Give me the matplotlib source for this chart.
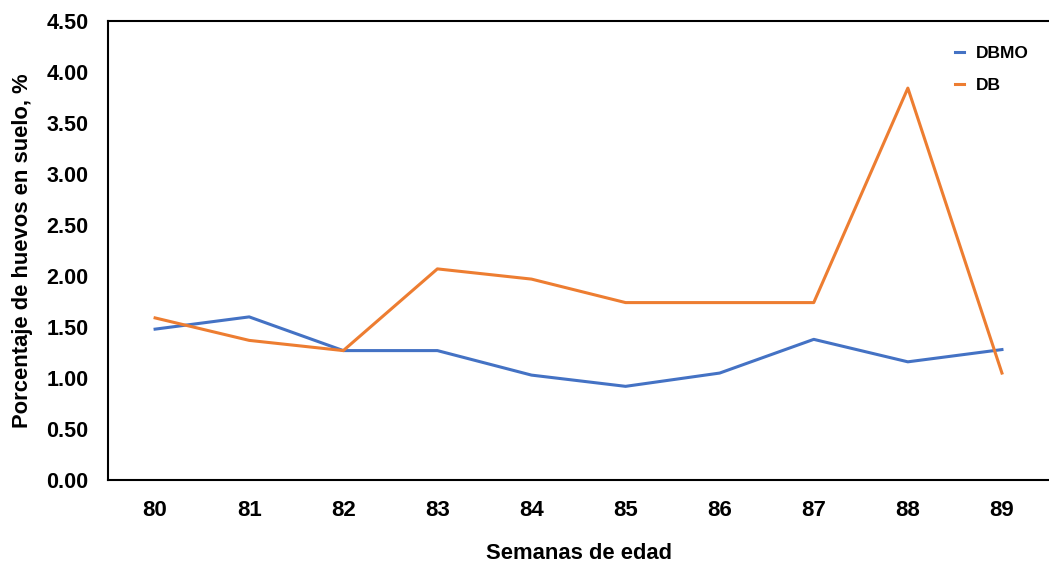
import matplotlib
matplotlib.use("Agg")
import matplotlib.pyplot as plt

weeks = ["80", "81", "82", "83", "84", "85", "86", "87", "88", "89"]
dbmo = [1.48, 1.60, 1.27, 1.27, 1.03, 0.92, 1.05, 1.38, 1.16, 1.28]
db = [1.59, 1.37, 1.27, 2.07, 1.97, 1.74, 1.74, 1.74, 3.84, 1.05]
yticks = [0.0, 0.5, 1.0, 1.5, 2.0, 2.5, 3.0, 3.5, 4.0, 4.5]

plt.rcParams['font.family'] = ['Liberation Sans', 'DejaVu Sans']

fig = plt.figure(figsize=(10.49, 5.64), dpi=100)
ax = fig.add_axes([0.103, 0.1484, 0.897, 0.8149])

x = list(range(len(weeks)))
ax.plot(x, dbmo, color="#4472C4", lw=2.2, label="DBMO")
ax.plot(x, db, color="#ED7D31", lw=2.2, label="DB")

ax.set_xlim(-0.5, len(weeks) - 0.5)
ax.set_ylim(0, 4.5)
ax.set_xticks(x)
ax.set_xticklabels(weeks, fontsize=16, fontweight="bold")
ax.set_yticks(yticks)
ax.set_yticklabels([f"{v:.2f}" for v in yticks], fontsize=15.5, fontweight="bold")
ax.tick_params(axis="both", length=0)
ax.tick_params(axis="y", pad=14)
ax.tick_params(axis="x", pad=14)

for s in ["left", "top", "bottom"]:
    ax.spines[s].set_linewidth(1.5)
    ax.spines[s].set_color("black")
ax.spines["right"].set_visible(False)

ax.set_xlabel("Semanas de edad", fontsize=15.8, fontweight="bold", labelpad=16)
ax.set_ylabel("Porcentaje de huevos en suelo, %", fontsize=15.8, fontweight="bold", labelpad=10)

leg = ax.legend(loc="upper right", bbox_to_anchor=(0.995, 0.98), frameon=False,
                handlelength=0.5, handletextpad=0.7, labelspacing=1.0,
                prop={"size": 12.5, "weight": "bold"})

fig.savefig("out.png", dpi=100)
